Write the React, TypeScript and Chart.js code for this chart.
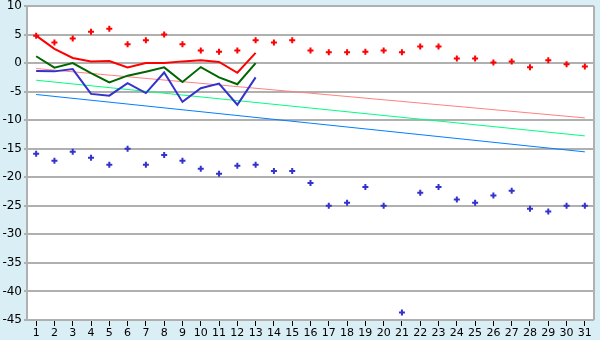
import React, { useEffect, useRef } from "react";
import { Chart, registerables } from "chart.js";

Chart.register(...registerables);

const days = ["1","2","3","4","5","6","7","8","9","10","11","12","13","14","15","16","17","18","19","20","21","22","23","24","25","26","27","28","29","30","31"];

const maxPoints = [4.8, 3.6, 4.3, 5.5, 6.0, 3.3, 4.0, 5.0, 3.3, 2.2, 2.0, 2.2, 4.0, 3.6, 4.0, 2.2, 1.9, 1.9, 2.0, 2.2, 1.9, 2.9, 2.9, 0.8, 0.8, 0.1, 0.3, -0.75, 0.5, -0.2, -0.6];
const minPoints = [-15.9, -17.1, -15.55, -16.6, -17.8, -15.0, -17.8, -16.1, -17.1, -18.5, -19.4, -18.0, -17.8, -18.9, -18.9, -21.0, -25.0, -24.45, -21.7, -25.0, -43.7, -22.7, -21.7, -23.9, -24.45, -23.2, -22.35, -25.5, -26.0, -25.0, -25.0];

const redLine = [4.8, 2.5, 0.9, 0.3, 0.35, -0.75, 0.0, 0.0, 0.3, 0.5, 0.2, -1.7, 1.8];
const greenLine = [1.2, -0.8, 0.0, -1.75, -3.4, -2.2, -1.5, -0.75, -3.3, -0.7, -2.5, -3.7, 0.0];
const blueLine = [-1.4, -1.45, -1.05, -5.4, -5.7, -3.5, -5.25, -1.65, -6.8, -4.4, -3.6, -7.3, -2.5];

// trend lines: values at day 1 and day 31
const pinkTrend = [-0.95, -9.6];
const greenTrend = [-3.0, -12.75];
const blueTrend = [-5.5, -15.55];

const yMin = -45;
const yMax = 10;
const yStep = 5;

function endpoints(pair: number[]) {
  return days.map((_, i) => (i === 0 ? pair[0] : i === days.length - 1 ? pair[1] : null));
}

const borderPlugin = {
  id: "plotBorder",
  afterDraw(chart: any) {
    const { ctx, chartArea } = chart;
    ctx.save();
    ctx.strokeStyle = "#b0b0b0";
    ctx.lineWidth = 2;
    ctx.beginPath();
    ctx.moveTo(chartArea.right, chartArea.top);
    ctx.lineTo(chartArea.right, chartArea.bottom);
    ctx.stroke();
    ctx.restore();
  },
  beforeDraw(chart: any) {
    const { ctx, chartArea, width, height } = chart;
    ctx.save();
    ctx.fillStyle = "#daeef5";
    ctx.fillRect(0, 0, width, height);
    ctx.fillStyle = "#ffffff";
    ctx.fillRect(chartArea.left, chartArea.top, chartArea.right - chartArea.left, chartArea.bottom - chartArea.top);
    ctx.restore();
  },
};

export default function App() {
  const ref = useRef<HTMLCanvasElement>(null);
  useEffect(() => {
    document.body.style.margin = "0";
    const pad = (arr: number[]) => days.map((_, i) => (i < arr.length ? arr[i] : null));
    const chart = new Chart(ref.current!, {
      type: "line",
      data: {
        labels: days,
        datasets: [
          { data: pad(redLine), borderColor: "#ff0000", borderWidth: 2, pointRadius: 0, tension: 0 },
          { data: pad(greenLine), borderColor: "#006600", borderWidth: 2, pointRadius: 0, tension: 0 },
          { data: pad(blueLine), borderColor: "#3333cc", borderWidth: 2, pointRadius: 0, tension: 0 },
          { data: maxPoints, showLine: false, pointStyle: "cross", pointRadius: 3, pointBorderWidth: 2, borderColor: "#ff0000", backgroundColor: "#ff0000" },
          { data: minPoints, showLine: false, pointStyle: "cross", pointRadius: 3, pointBorderWidth: 2, borderColor: "#3333cc", backgroundColor: "#3333cc" },
          { data: endpoints(pinkTrend), spanGaps: true, borderColor: "#ff8080", borderWidth: 1, pointRadius: 0 },
          { data: endpoints(greenTrend), spanGaps: true, borderColor: "#00ff80", borderWidth: 1, pointRadius: 0 },
          { data: endpoints(blueTrend), spanGaps: true, borderColor: "#0080ff", borderWidth: 1, pointRadius: 0 },
        ],
      },
      options: {
        animation: false,
        responsive: false,
        layout: { padding: { top: 5, right: 4, left: 0, bottom: 0 } },
        plugins: { legend: { display: false }, tooltip: { enabled: false } },
        scales: {
          x: {
            offset: true,
            grid: { drawOnChartArea: false, drawTicks: true, tickLength: 6, tickColor: "#000000", offset: false },
            border: { display: false },
            ticks: { color: "#000000", font: { family: "DejaVu Sans", size: 11 }, padding: 1, maxRotation: 0, autoSkip: false },
            afterFit: (s: any) => { s.height = 20; s.paddingLeft = 0; s.paddingRight = 0; },
          },
          y: {
            min: yMin,
            max: yMax,
            grid: { color: "#b0b0b0", lineWidth: 2, tickLength: 3 },
            border: { color: "#b0b0b0", width: 2 },
            ticks: { stepSize: yStep, color: "#000000", font: { family: "DejaVu Sans", size: 12 }, padding: 2 },
            afterFit: (s: any) => { s.width = 27; s.paddingTop = 0; s.paddingBottom = 0; },
          },
        },
      },
      plugins: [borderPlugin],
    });
    return () => chart.destroy();
  }, []);
  return (
    <div style={{ width: 600, height: 340, background: "#daeef5" }}>
      <canvas ref={ref} width={600} height={340} style={{ display: "block" }} />
    </div>
  );
}
